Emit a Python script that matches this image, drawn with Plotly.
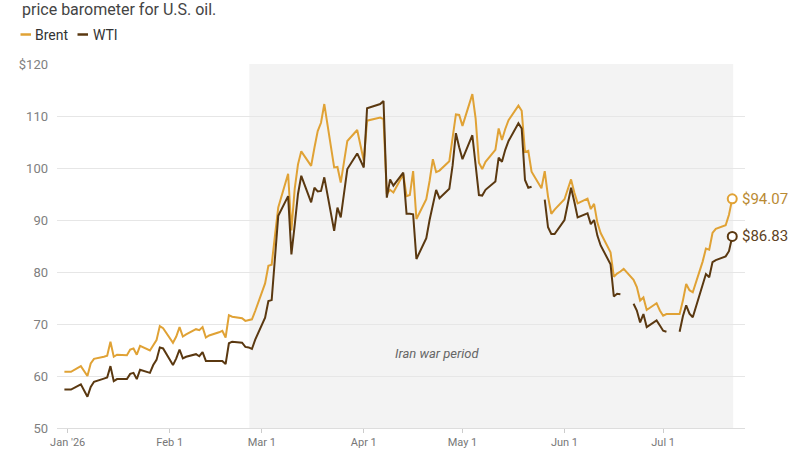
import plotly.graph_objects as go

# ---------------- data ----------------
dates = [
    "2025-12-31", "2026-01-02", "2026-01-05", "2026-01-07", "2026-01-08", "2026-01-09",
    "2026-01-12", "2026-01-13", "2026-01-14", "2026-01-15", "2026-01-16",
    "2026-01-19", "2026-01-20", "2026-01-21", "2026-01-22", "2026-01-23",
    "2026-01-26", "2026-01-27", "2026-01-28", "2026-01-29", "2026-01-30",
    "2026-02-02", "2026-02-03", "2026-02-04", "2026-02-05", "2026-02-06",
    "2026-02-09", "2026-02-10", "2026-02-11", "2026-02-12", "2026-02-13",
    "2026-02-16", "2026-02-17", "2026-02-18", "2026-02-19", "2026-02-20",
    "2026-02-23", "2026-02-24", "2026-02-25", "2026-02-26", "2026-02-27",
    "2026-03-02", "2026-03-03", "2026-03-04", "2026-03-05", "2026-03-06",
    "2026-03-09", "2026-03-10", "2026-03-11", "2026-03-12", "2026-03-13",
    "2026-03-16", "2026-03-17", "2026-03-18", "2026-03-19", "2026-03-20",
    "2026-03-23", "2026-03-24", "2026-03-25", "2026-03-26", "2026-03-27",
    "2026-03-30", "2026-03-31", "2026-04-01", "2026-04-02",
    "2026-04-06", "2026-04-07", "2026-04-08", "2026-04-09", "2026-04-10",
    "2026-04-13", "2026-04-14", "2026-04-15", "2026-04-16", "2026-04-17",
    "2026-04-20", "2026-04-21", "2026-04-22", "2026-04-23", "2026-04-24",
    "2026-04-27", "2026-04-28", "2026-04-29", "2026-04-30", "2026-05-01",
    "2026-05-04", "2026-05-05", "2026-05-06", "2026-05-07", "2026-05-08",
    "2026-05-11", "2026-05-12", "2026-05-13", "2026-05-14", "2026-05-15",
    "2026-05-18", "2026-05-19", "2026-05-20", "2026-05-21", "2026-05-22",
    "2026-05-25", "2026-05-26", "2026-05-27", "2026-05-28", "2026-05-29",
    "2026-06-01", "2026-06-02", "2026-06-03", "2026-06-04", "2026-06-05",
    "2026-06-08", "2026-06-09", "2026-06-10", "2026-06-11", "2026-06-12",
    "2026-06-15", "2026-06-16", "2026-06-17", "2026-06-18", "2026-06-19",
    "2026-06-22", "2026-06-23", "2026-06-24", "2026-06-25", "2026-06-26",
    "2026-06-29", "2026-06-30", "2026-07-01", "2026-07-02", "2026-07-03",
    "2026-07-06", "2026-07-07", "2026-07-08", "2026-07-09", "2026-07-10",
    "2026-07-13", "2026-07-14", "2026-07-15", "2026-07-16", "2026-07-17",
    "2026-07-20", "2026-07-21", "2026-07-22",
]

brent = [
    60.8, 60.8, 61.9, 60.0, 62.4, 63.3,
    63.7, 63.9, 66.6, 63.7, 64.1,
    64.0, 65.1, 65.3, 64.1, 65.8,
    64.9, 66.0, 66.9, 69.6, 69.2,
    66.4, 67.6, 69.4, 67.6, 68.0,
    69.0, 68.8, 69.4, 67.4, 67.8,
    68.4, 68.7, 67.4, 71.7, 71.4,
    71.1, 70.6, 70.7, 70.9, 72.5,
    77.8, 81.2, 81.4, 87.0, 92.4,
    98.9, 88.0, 96.0, 100.7, 103.2,
    100.4, 103.9, 107.1, 108.7, 112.3,
    100.1, 100.2, 97.2, 101.5, 105.2,
    107.3, 104.5, 101.4, 109.1,
    109.7, 109.4, 95.0, 95.8, 95.3,
    98.8, 94.6, 94.8, 99.4, 90.2,
    94.0, 97.5, 101.7, 99.2, 99.5,
    101.3, 106.0, 110.3, 110.2, 108.1,
    114.2, 109.5, 101.0, 99.8, 101.2,
    103.5, 107.6, 105.4, 107.5, 109.2,
    112.0, 111.0, 103.1, 103.3, 99.3,
    96.1, 99.4, 94.5, 91.2, 92.0,
    94.0, 96.0, 97.8, 95.3, 93.2,
    94.1, 92.1, 93.1, 89.5, 87.5,
    83.8, 79.1, 79.7, 80.1, 80.6,
    78.5, 77.1, 74.5, 75.1, 72.7,
    74.0, 72.6, 71.6, 71.9, 71.9,
    71.9, 74.5, 77.7, 76.5, 76.1,
    82.0, 84.5, 84.3, 87.5, 88.3,
    89.0, 91.0, 94.07,
]

wti = [
    57.4, 57.4, 58.4, 56.0, 57.9, 58.9,
    59.5, 59.7, 61.9, 59.0, 59.4,
    59.4, 60.4, 60.6, 59.4, 61.2,
    60.6, 62.1, 63.1, 65.5, 65.3,
    62.1, 63.4, 65.1, 63.4, 63.7,
    64.2, 63.8, 64.6, 62.9, 62.9,
    62.9, 62.9, 62.3, 66.3, 66.6,
    66.4, 65.6, 65.5, 65.2, 67.0,
    71.2, 74.4, 74.6, 82.1, 90.8,
    94.6, 83.4, 89.0, 95.0, 98.5,
    93.4, 96.2, 95.5, 95.6, 98.2,
    87.9, 92.4, 90.5, 95.0, 99.8,
    102.8, 101.5, 100.1, 111.5,
    112.3, 112.9, 94.3, 97.8, 96.6,
    99.1, 91.2, 91.2, 91.1, 82.5,
    86.5, 90.0, 93.0, 95.8, 94.2,
    96.0, 100.5, 106.7, 104.0, 101.7,
    106.3, 100.5, 94.8, 94.7, 95.8,
    97.4, 102.0, 101.2, 103.5, 105.2,
    108.6, 107.6, 97.7, 96.2, 96.4,
    None, 93.9, 88.6, 87.3, 87.3,
    90.0, 93.0, 96.2, 93.5, 90.5,
    91.3, 89.2, 90.0, 87.0, 85.1,
    81.5, 75.3, 75.8, 75.7, None,
    73.9, 72.6, 70.3, 71.9, 69.4,
    70.7, 69.7, 68.7, 68.5, None,
    68.5, 71.5, 73.6, 72.0, 71.3,
    77.5, 79.6, 79.0, 81.9, 82.3,
    83.0, 84.0, 86.83,
]

series_names = ["Brent", "WTI"]
tick_dates = ["2026-01-01", "2026-02-01", "2026-03-01", "2026-04-01",
              "2026-05-01", "2026-06-01", "2026-07-01"]
tick_labels = ["Jan '26", "Feb 1", "Mar 1", "Apr 1", "May 1", "Jun 1", "Jul 1"]
y_ticks = [50, 60, 70, 80, 90, 100, 110, 120]
y_tick_labels = ["50", "60", "70", "80", "90", "100", "110", "$120"]
war_period = ["2026-02-25 05:00", "2026-07-22 07:00"]
war_label = "Iran war period"
subtitle = "price barometer for U.S. oil."

# ---------------- style ----------------
BRENT_C = "#E0A235"
WTI_C = "#5A3810"
BRENT_LBL = "#B98A33"
WTI_LBL = "#5E4222"
FONT = "Roboto"

W, H = 800, 450
ML, MR, MT, MB = 57, 55, 64, 22
PW, PH = W - ML - MR, H - MT - MB


def px_x(p):
    return (p - ML) / PW


def px_y(p):
    return (H - MB - p) / PH


fig = go.Figure()

fig.add_trace(go.Scatter(x=dates, y=brent, mode="lines", name=series_names[0],
                         line=dict(color=BRENT_C, width=2), connectgaps=False,
                         showlegend=False))
fig.add_trace(go.Scatter(x=dates, y=wti, mode="lines", name=series_names[1],
                         line=dict(color=WTI_C, width=2), connectgaps=False,
                         showlegend=False))

# end markers and labels
for vals, col, lcol in [(brent, BRENT_C, BRENT_LBL), (wti, WTI_C, WTI_LBL)]:
    fig.add_trace(go.Scatter(x=[dates[-1]], y=[vals[-1]], mode="markers",
                             marker=dict(symbol="circle", size=9, color="white",
                                         line=dict(color=col, width=2)),
                             showlegend=False, hoverinfo="skip"))
    fig.add_annotation(x=dates[-1], y=vals[-1], text=f"${vals[-1]:.2f}",
                       xanchor="left", yanchor="middle", xshift=8, showarrow=False,
                       font=dict(family=FONT, size=15, color=lcol))

# shaded war period
fig.add_shape(type="rect", xref="x", yref="paper", x0=war_period[0], x1=war_period[1],
              y0=0, y1=1, fillcolor="#f3f3f3", line=dict(width=0), layer="below")

fig.add_annotation(x="2026-04-23 12:00", y=64.4, text=war_label, showarrow=False,
                   font=dict(family=FONT, size=13, color="#666666", style="italic"))

# subtitle (top line of the header)
fig.add_annotation(xref="paper", yref="paper", x=px_x(20), y=px_y(9), text=subtitle,
                   xanchor="left", yanchor="middle", showarrow=False,
                   font=dict(family=FONT, size=16, color="#444444"))

# custom legend
leg = [(series_names[0], BRENT_C, 20.5, 33), (series_names[1], WTI_C, 77.5, 90.5)]
for name, col, x0, xt in leg:
    fig.add_shape(type="line", xref="paper", yref="paper",
                  x0=px_x(x0), x1=px_x(x0 + 10.5), y0=px_y(34.5), y1=px_y(34.5),
                  line=dict(color=col, width=2.5))
    fig.add_annotation(xref="paper", yref="paper", x=px_x(xt), y=px_y(34.5), text=name,
                       xanchor="left", yanchor="middle", showarrow=False,
                       font=dict(family=FONT, size=14, color="#333333"))

fig.update_layout(
    width=W, height=H,
    margin=dict(l=ML, r=MR, t=MT, b=MB, autoexpand=False),
    paper_bgcolor="white", plot_bgcolor="white",
    font=dict(family=FONT),
    xaxis=dict(
        type="date", automargin=False,
        range=["2025-12-28 18:00", "2026-07-25 21:00"],
        tickvals=tick_dates, ticktext=tick_labels,
        ticks="outside", ticklen=4, tickcolor="#cccccc", tickwidth=1,
        ticklabelstandoff=0,
        showgrid=False, showline=True, linecolor="#dddddd", linewidth=1,
        tickfont=dict(family=FONT, size=11, color="#777777"),
        zeroline=False, fixedrange=True,
    ),
    yaxis=dict(
        range=[50, 120], automargin=False,
        tickvals=y_ticks, ticktext=y_tick_labels,
        showgrid=True, gridcolor="#e6e6e6", gridwidth=1,
        zeroline=False, showline=False, ticks="",
        ticklabelstandoff=8,
        tickfont=dict(family=FONT, size=13, color="#808080"),
        fixedrange=True,
    ),
)

fig.write_html("out.html")
